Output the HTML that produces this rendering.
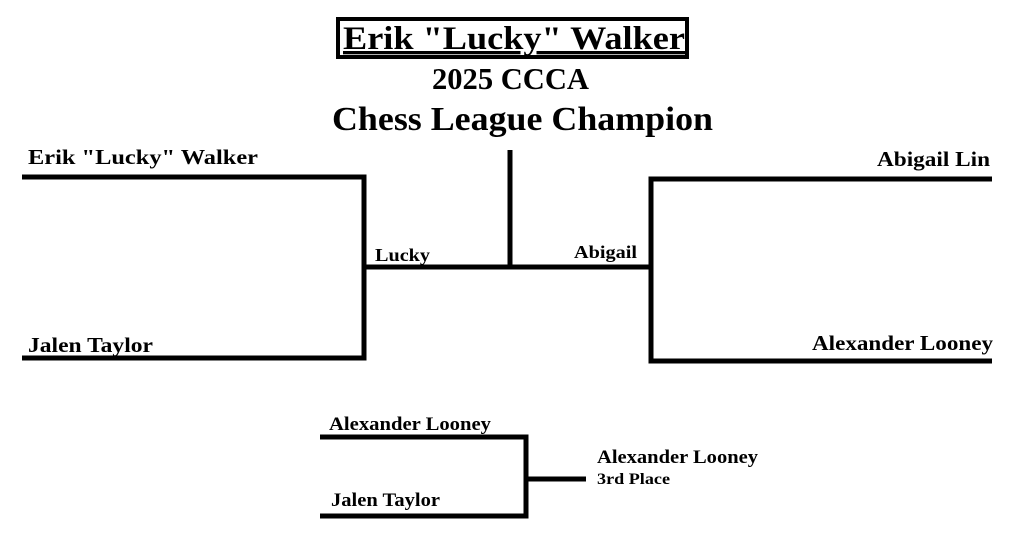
<!DOCTYPE html>
<html><head><style>body{margin:0;background:#fff}svg{display:block}text{font-family:"Liberation Serif",serif;font-weight:bold;fill:#000}</style></head>
<body>
<svg width="1023" height="533" viewBox="0 0 1023 533">
<rect x="338" y="19" width="349" height="38" fill="none" stroke="#000" stroke-width="4"/>
<text x="343" y="49" font-size="33" textLength="342" lengthAdjust="spacingAndGlyphs" text-decoration="underline">Erik "Lucky" Walker</text>
<text x="432" y="89" font-size="31" textLength="157" lengthAdjust="spacingAndGlyphs">2025 CCCA</text>
<text x="332" y="130" font-size="34" textLength="381" lengthAdjust="spacingAndGlyphs">Chess League Champion</text>
<g stroke="#000" stroke-width="5" fill="none">
<polyline points="22,177 364,177 364,358 22,358"/>
<line x1="364" y1="267" x2="651" y2="267"/>
<line x1="510" y1="150" x2="510" y2="267"/>
<polyline points="992,179 651,179 651,361 992,361"/>
<polyline points="320,437 526,437 526,516 320,516"/>
<line x1="526" y1="479" x2="586" y2="479"/>
</g>
<g font-size="21" lengthAdjust="spacingAndGlyphs">
<text x="28" y="164" textLength="230" lengthAdjust="spacingAndGlyphs">Erik "Lucky" Walker</text>
<text x="877" y="166" textLength="113" lengthAdjust="spacingAndGlyphs">Abigail Lin</text>
<text x="28" y="352" textLength="125" lengthAdjust="spacingAndGlyphs">Jalen Taylor</text>
<text x="812" y="350" textLength="181" lengthAdjust="spacingAndGlyphs">Alexander Looney</text>
</g>
<g font-size="18">
<text x="375" y="261" textLength="55" lengthAdjust="spacingAndGlyphs">Lucky</text>
<text x="574" y="258" textLength="63" lengthAdjust="spacingAndGlyphs">Abigail</text>
</g>
<g font-size="19">
<text x="329" y="430" textLength="162" lengthAdjust="spacingAndGlyphs">Alexander Looney</text>
<text x="331" y="506" textLength="109" lengthAdjust="spacingAndGlyphs">Jalen Taylor</text>
<text x="597" y="463" textLength="161" lengthAdjust="spacingAndGlyphs">Alexander Looney</text>
</g>
<text x="597" y="484" font-size="16" textLength="73" lengthAdjust="spacingAndGlyphs">3rd Place</text>
</svg>
</body></html>
